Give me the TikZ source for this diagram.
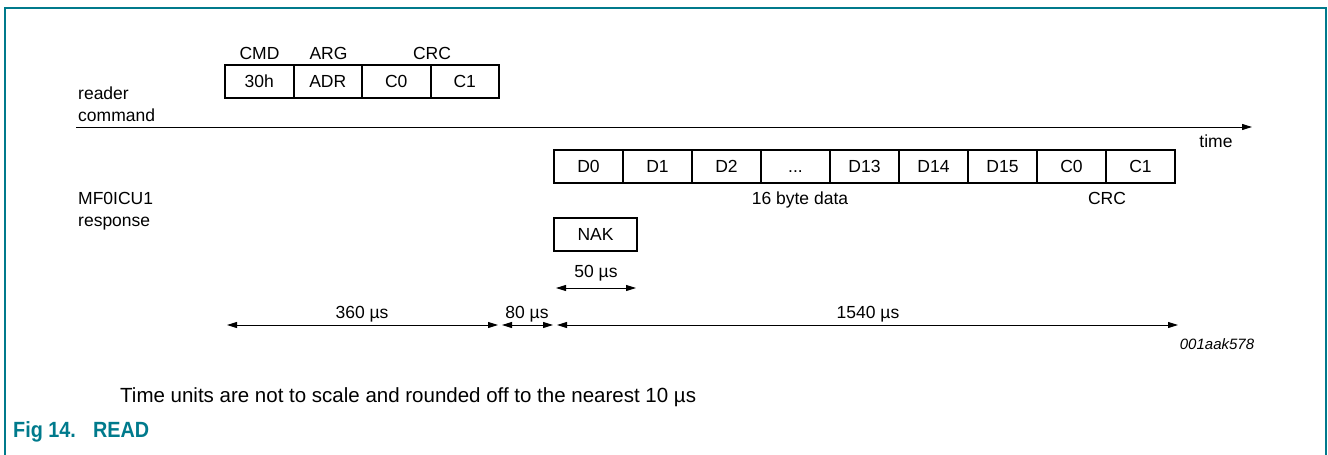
\documentclass[tikz,border=0pt]{standalone}
\usepackage{fontspec}
\setmainfont{Liberation Sans}
\usetikzlibrary{arrows.meta}
\definecolor{nxp}{RGB}{0,122,140}
\newcommand\mydots{...}
\begin{document}
\begin{tikzpicture}[x=1pt,y=-1pt,
  every node/.style={font=\fontsize{17.5}{21}\selectfont, inner sep=0pt, text height=12.5pt, text depth=0pt},
  cell/.style={draw, line width=2pt, minimum height=33pt, inner sep=0pt},
  sidelbl/.style={anchor=west},
  dim/.style={line width=0.9pt, {Triangle[length=10pt,width=6pt]}-{Triangle[length=10pt,width=6pt]}},
  axis/.style={line width=1pt, -{Triangle[length=10pt,width=6pt]}}]
\useasboundingbox (0,0) rectangle (1328,455);
% frame
\draw[nxp, line width=1.8pt] (5,455) -- (5,8) -- (1326,8) -- (1326,455);
% reader command
\foreach \t [count=\i] in {30h,ADR,C0,C1}
  \node[cell, minimum width=68.5pt] (q\i) at ({225+68.5*(\i-0.5)},81.5) {\t};
\node (cmd) at (259.5,53) {CMD};
\node (arg) at (328.5,53) {ARG};
\node (crcq) at (432,53) {CRC};
\node[sidelbl] (reader) at (78,93) {reader};
\node[sidelbl] (command) at (78,115.5) {command};
% time axis
\coordinate (t0) at (76,127);
\coordinate (t1) at (1252,127);
\draw[axis] (t0) -- (t1);
\node (time) at (1216,141) {time};
% response
\foreach \t [count=\i] in {D0,D1,D2,\mydots,D13,D14,D15,C0,C1}
  \node[cell, minimum width=69pt] (r\i) at ({554+69*(\i-0.5)},166.5) {\t};
\node[sidelbl] (mf) at (78,198) {MF0ICU1};
\node[sidelbl] (resp) at (78,220) {response};
\node (data) at (800,198) {16 byte data};
\node (crcr) at (1107,198) {CRC};
\node[cell, minimum width=83pt] (nak) at (595.5,234.5) {NAK};
% 50 us
\node (l50) at (596,271) {50 µs};
\coordinate (n0) at (556,288);
\coordinate (n1) at (636,288);
\draw[dim] (n0) -- (n1);
% bottom dimensions
\coordinate (d0) at (227,325);
\coordinate (d1) at (498,325);
\coordinate (d2) at (502,325);
\coordinate (d3) at (553,325);
\coordinate (d4) at (557,325);
\coordinate (d5) at (1178,325);
\draw[dim] (d0) -- (d1);
\draw[dim] (d2) -- (d3);
\draw[dim] (d4) -- (d5);
\node (l360) at (362,312) {360 µs};
\node (l80) at (527,312) {80 µs};
\node (l1540) at (868,312) {1540 µs};
\node[font=\fontsize{15}{18}\selectfont\itshape] (code) at (1217,343) {001aak578};
\node[anchor=west, font=\fontsize{20.5}{24}\selectfont, text height=14.7pt] (note) at (120,395) {Time units are not to scale and rounded off to the nearest 10 µs};
\node[anchor=west, text=nxp, font=\fontsize{22}{26}\selectfont\bfseries, text height=15.8pt] (fig) at (13,430) {\scalebox{0.9}[1]{Fig 14.\hspace{19pt}READ}};
\end{tikzpicture}
\end{document}
